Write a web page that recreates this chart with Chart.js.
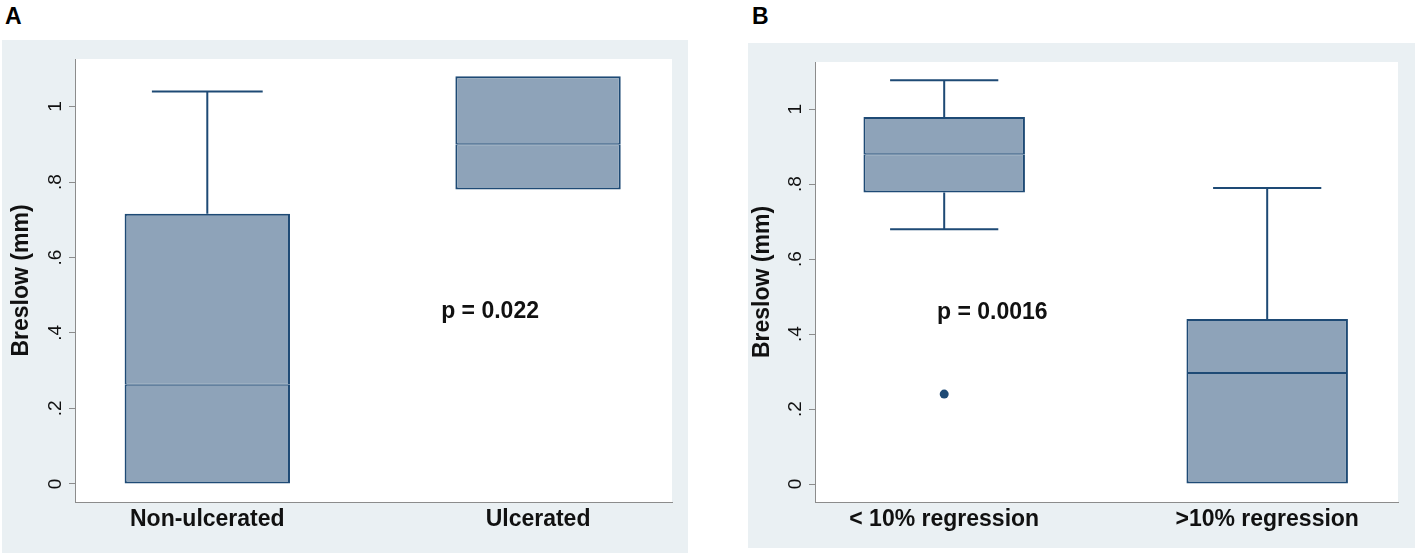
<!DOCTYPE html>
<html lang="en">
<head>
<meta charset="UTF-8">
<title>Breslow thickness</title>
<script src="https://cdn.jsdelivr.net/npm/chart.js@4.4.1/dist/chart.umd.min.js"></script>
<style>
    html, body {
        margin: 0;
        padding: 0;
        width: 1417px;
        height: 554px;
        overflow: hidden;
        background: #fff;
        font-family: 'Liberation Sans', Arial, sans-serif;
    }
    .panel-letter {
        position: absolute;
        font-size: 23px;
        line-height: 23px;
        font-weight: 700;
        color: #000;
    }
    .panel {
        position: absolute;
        background: #eaf0f3;
    }
    .panel canvas { display: block; }
</style>
</head>
<body>
<div class="panel-letter" style="left:5px; top:5px;">A</div>
<div class="panel-letter" style="left:752px; top:5px;">B</div>

<div class="panel" style="left:2px; top:40px; width:686px; height:513px;">
    <canvas id="chartA" width="686" height="513"></canvas>
</div>
<div class="panel" style="left:748px; top:43px; width:667px; height:505px;">
    <canvas id="chartB" width="667" height="505"></canvas>
</div>

<script>
    // y axis ticks (Stata style labels)
    const yTickValues = [0, 0.2, 0.4, 0.6, 0.8, 1];
    const yTickLabels = ['0', '.2', '.4', '.6', '.8', '1'];

    // Panel A: ulceration
    const labelsA = ['Non-ulcerated', 'Ulcerated'];
    const lowA = [0, 0.78];
    const q1A = [0, 0.78];
    const medianA = [0.263, 0.90];
    const q3A = [0.716, 1.08];
    const highA = [1.04, 1.08];
    const outliersA = [];
    const pTextA = 'p = 0.022';

    // Panel B: regression
    const labelsB = ['< 10% regression', '>10% regression'];
    const lowB = [0.68, 0];
    const q1B = [0.778, 0];
    const medianB = [0.88, 0.296];
    const q3B = [0.979, 0.44];
    const highB = [1.077, 0.79];
    const outliersB = [{ x: 1, y: 0.24 }];
    const pTextB = 'p = 0.0016';

    const NAVY = '#1e4a75';
    const FILL = '#8ea3b9';
    const AXIS = '#8c8c8c';
    const FONT = "'Liberation Sans', Arial, sans-serif";

    // white plot region on the tinted panel
    const plotBg = {
        id: 'plotBg',
        beforeDraw(chart) {
            const { ctx, chartArea: a } = chart;
            ctx.save();
            ctx.fillStyle = '#fff';
            ctx.fillRect(a.left, a.top, a.right - a.left, a.bottom - a.top);
            ctx.restore();
        }
    };

    // whiskers + caps, drawn from the data through the scales
    const whiskers = {
        id: 'whiskers',
        afterDatasetsDraw(chart, args, opts) {
            const { ctx, scales: { x, y } } = chart;
            const boxes = chart.getDatasetMeta(0).data;
            ctx.save();
            ctx.strokeStyle = NAVY;
            ctx.lineWidth = 2;
            opts.q1.forEach((_, i) => {
                const cx = x.getPixelForValue(i + 1);
                const half = boxes[i].width * 0.335;
                [[opts.q3[i], opts.high[i]], [opts.q1[i], opts.low[i]]].forEach(([from, to]) => {
                    if (from === to) return;
                    const y0 = y.getPixelForValue(from), y1 = y.getPixelForValue(to);
                    ctx.beginPath();
                    ctx.moveTo(cx, y0);
                    ctx.lineTo(cx, y1);
                    ctx.moveTo(cx - half, y1);
                    ctx.lineTo(cx + half, y1);
                    ctx.stroke();
                });
            });
            ctx.restore();
        }
    };

    // p-value note placed in data units
    const pNote = {
        id: 'pNote',
        afterDraw(chart, args, opts) {
            const { ctx, scales: { x, y } } = chart;
            ctx.save();
            ctx.font = `bold 23px ${FONT}`;
            ctx.fillStyle = '#111';
            ctx.textAlign = 'center';
            ctx.textBaseline = 'middle';
            ctx.fillText(opts.text, x.getPixelForValue(opts.at[0]), y.getPixelForValue(opts.at[1]));
            ctx.restore();
        }
    };

    function boxChart(id, p) {
        const boxStyle = {
            type: 'bar',
            backgroundColor: FILL,
            borderColor: NAVY,
            borderSkipped: false,
            grouped: false,
            barPercentage: 0.5,
            categoryPercentage: 1
        };
        new Chart(document.getElementById(id), {
            type: 'bar',
            data: {
                datasets: [
                    // lower half of box (q1 -> median)
                    { ...boxStyle, borderWidth: { left: 2, right: 2, bottom: 2, top: 1 },
                      data: p.labels.map((_, i) => ({ x: i + 1, y: [p.q1[i], p.median[i]] })) },
                    // upper half of box (median -> q3)
                    { ...boxStyle, borderWidth: { left: 2, right: 2, bottom: 1, top: 2 },
                      data: p.labels.map((_, i) => ({ x: i + 1, y: [p.median[i], p.q3[i]] })) },
                    { type: 'scatter', data: p.outliers, pointRadius: 4.5, backgroundColor: NAVY, borderWidth: 0 }
                ]
            },
            options: {
                responsive: false,
                animation: false,
                layout: { padding: { top: 19, right: p.padRight, left: 0, bottom: 0 } },
                plugins: {
                    legend: { display: false },
                    tooltip: { enabled: false },
                    whiskers: { q1: p.q1, q3: p.q3, low: p.low, high: p.high },
                    pNote: { text: p.pText, at: p.pAt }
                },
                scales: {
                    x: {
                        type: 'linear',
                        offset: false,
                        min: 0.6,
                        max: 2.405,
                        afterBuildTicks: s => { s.ticks = p.labels.map((_, i) => ({ value: i + 1 })); },
                        afterFit: s => { s.height = p.xAxisHeight; s.paddingLeft = 0; s.paddingRight = 0; },
                        grid: { display: false, drawTicks: false },
                        border: { display: true, color: AXIS, width: 1 },
                        ticks: {
                            autoSkip: false,
                            maxRotation: 0,
                            padding: 4,
                            color: '#111',
                            font: { family: FONT, size: 23, weight: 'bold' },
                            callback: (v, i) => p.labels[i]
                        }
                    },
                    y: {
                        type: 'linear',
                        min: -0.048,
                        max: 1.126,
                        afterBuildTicks: s => { s.ticks = yTickValues.map(v => ({ value: v })); },
                        afterFit: s => { s.width = p.yAxisWidth; s.paddingTop = 0; s.paddingBottom = 0; },
                        grid: { drawOnChartArea: false, drawTicks: true, tickLength: 6, color: AXIS },
                        border: { display: true, color: AXIS, width: 1 },
                        ticks: {
                            minRotation: 90,
                            maxRotation: 90,
                            crossAlign: 'center',
                            padding: 5,
                            color: '#111',
                            font: { family: FONT, size: 19 },
                            callback: (v, i) => yTickLabels[i]
                        },
                        title: {
                            display: true,
                            text: 'Breslow (mm)',
                            color: '#111',
                            font: { family: FONT, size: 23, weight: 'bold' },
                            padding: { top: p.titlePad, bottom: 0 }
                        }
                    }
                }
            },
            plugins: [plotBg, whiskers, pNote]
        });
    }

    boxChart('chartA', {
        labels: labelsA, low: lowA, q1: q1A, median: medianA, q3: q3A, high: highA,
        outliers: outliersA, pText: pTextA, pAt: [1.855, 0.456],
        yAxisWidth: 73, xAxisHeight: 51, padRight: 16, titlePad: 6
    });
    boxChart('chartB', {
        labels: labelsB, low: lowB, q1: q1B, median: medianB, q3: q3B, high: highB,
        outliers: outliersB, pText: pTextB, pAt: [1.149, 0.456],
        yAxisWidth: 67, xAxisHeight: 46, padRight: 17, titlePad: 1
    });
</script>
</body>
</html>
